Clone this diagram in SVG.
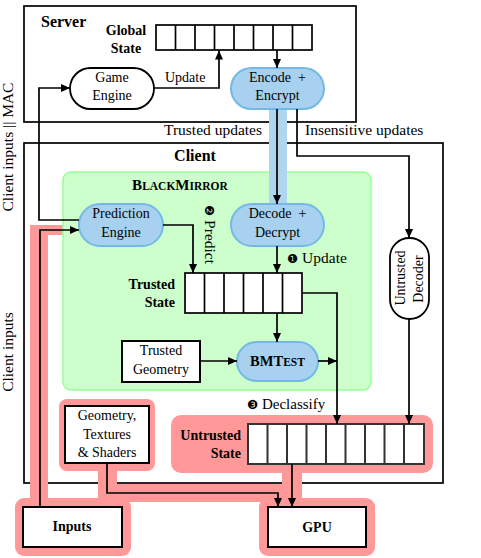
<svg xmlns="http://www.w3.org/2000/svg" width="481" height="558" viewBox="0 0 481 558">
<style>
text{font-family:"Liberation Serif","DejaVu Serif",serif;fill:#000}
.n{font-size:14px;text-anchor:middle}
.b{font-weight:bold;font-size:14px}
.lab{font-size:15.5px}
.box{fill:none;stroke:#000;stroke-width:1.7}
.wb{fill:#fff;stroke:#000;stroke-width:2}
.cell{fill:#fff;stroke:#000;stroke-width:1.7}
.ucell{fill:#fff;stroke:#333;stroke-width:2}
.blue{fill:#a7d1ee;stroke:#74b9e6;stroke-width:2}
.pill{fill:#fff;stroke:#000;stroke-width:1.8}
.pink{fill:#ff9999}
.ln{fill:none;stroke:#000;stroke-width:1.7}
.ar{marker-end:url(#ah)}
.dg{font-family:"DejaVu Sans",sans-serif;font-size:12.5px}
</style>
<defs>
<marker id="ah" markerUnits="userSpaceOnUse" markerWidth="10" markerHeight="8" refX="9" refY="4" orient="auto">
<path d="M0,0 L9,4 L0,8 z" fill="#000"/>
</marker>
</defs>
<rect width="481" height="558" fill="#fff"/>

<g id="server">
<rect class="box" x="24" y="6" width="332" height="116"/>
<text x="41" y="27" class="b" style="font-size:16px">Server</text>
</g>

<g id="client">
<rect class="box" x="24" y="143" width="419" height="340"/>
<text x="195" y="161" class="b" style="font-size:16px;text-anchor:middle">Client</text>
</g>

<g id="side-labels">
<text class="lab" transform="translate(13,147) rotate(-90)" text-anchor="middle">Client inputs || MAC</text>
<text class="lab" transform="translate(13,352) rotate(-90)" text-anchor="middle">Client inputs</text>
</g>

<g id="pink-regions">
<rect class="pink" x="30" y="225" width="18" height="280"/>
<rect class="pink" x="30" y="225" width="34" height="10"/>
<rect class="pink" x="59" y="399" width="96" height="72" rx="8"/>
<rect class="pink" x="98" y="465" width="19" height="37"/>
<rect class="pink" x="98" y="484" width="190" height="18"/>
<rect class="pink" x="171" y="415" width="262" height="58" rx="10"/>
<rect class="pink" x="282" y="470" width="20" height="32"/>
<rect class="pink" x="15" y="498" width="116" height="58" rx="9"/>
<rect class="pink" x="259" y="498" width="116" height="58" rx="9"/>
</g>

<g id="blackmirror">
<rect x="63" y="172" width="308" height="218" rx="8" fill="#ccffcc" stroke="#99ff99" stroke-width="1.5"/>
<text x="180" y="190" text-anchor="middle" font-weight="bold" style="font-size:15px">B<tspan style="font-size:11.5px">LACK</tspan>M<tspan style="font-size:11.5px">IRROR</tspan></text>
</g>

<g id="trusted-band">
<rect x="269" y="109" width="18" height="96" fill="#b0d5ee"/>
</g>

<g id="global-state">
<text x="126" y="35" class="b" text-anchor="middle">Global</text>
<text x="126" y="53" class="b" text-anchor="middle">State</text>
<rect class="cell" x="156" y="25" width="156" height="25"/>
<path class="ln" d="M175.5,25V50M195,25V50M214.5,25V50M234,25V50M253.5,25V50M273,25V50M292.5,25V50"/>
</g>

<g id="game-engine">
<rect class="pill" x="70" y="68" width="84" height="41" rx="20.5"/>
<text x="112" y="82" class="n">Game</text>
<text x="112" y="100" class="n">Engine</text>
</g>

<g id="encode-encrypt">
<rect class="blue" x="231" y="68" width="93" height="41" rx="20.5"/>
<text x="277.5" y="82" class="n">Encode&#160; +</text>
<text x="277.5" y="100" class="n">Encrypt</text>
</g>

<g id="prediction-engine">
<rect class="blue" x="79" y="204" width="84" height="42" rx="21"/>
<text x="121" y="218" class="n">Prediction</text>
<text x="121" y="237" class="n">Engine</text>
</g>

<g id="decode-decrypt">
<rect class="blue" x="231" y="204" width="93" height="42" rx="21"/>
<text x="277.5" y="218" class="n">Decode&#160; +</text>
<text x="277.5" y="237" class="n">Decrypt</text>
</g>

<g id="trusted-state">
<text x="175" y="289" class="b" text-anchor="end">Trusted</text>
<text x="175" y="307" class="b" text-anchor="end">State</text>
<rect class="cell" x="185" y="273" width="117" height="40"/>
<path class="ln" d="M204.5,273V313M224,273V313M243.5,273V313M263,273V313M282.5,273V313"/>
</g>

<g id="trusted-geometry">
<rect class="wb" x="122" y="341" width="78" height="41"/>
<text x="161" y="355" class="n">Trusted</text>
<text x="161" y="374" class="n">Geometry</text>
</g>

<g id="bmtest">
<rect class="blue" x="237" y="342" width="81" height="39" rx="19.5"/>
<text x="277.5" y="366" text-anchor="middle" font-weight="bold" style="font-size:14.5px">BMT<tspan style="font-size:11.5px">EST</tspan></text>
</g>

<g id="untrusted-decoder">
<rect class="pill" x="390" y="238" width="39" height="81" rx="19.5"/>
<text class="n" transform="translate(405,278) rotate(-90)">Untrusted</text>
<text class="n" transform="translate(423,279) rotate(-90)">Decoder</text>
</g>

<g id="geometry-textures">
<rect class="wb" x="65" y="406" width="84" height="57"/>
<text x="107" y="420" class="n">Geometry,</text>
<text x="107" y="439" class="n">Textures</text>
<text x="107" y="457" class="n">&amp; Shaders</text>
</g>

<g id="untrusted-state">
<text x="241" y="440" class="b" text-anchor="end">Untrusted</text>
<text x="241" y="458" class="b" text-anchor="end">State</text>
<rect class="ucell" x="248" y="424" width="176" height="40"/>
<path d="M267.5,424V464M287,424V464M306.5,424V464M326,424V464M345.5,424V464M365,424V464M384.5,424V464M404,424V464" stroke="#333" stroke-width="2" fill="none"/>
</g>

<g id="inputs">
<rect class="wb" x="23" y="507" width="99" height="40"/>
<text x="72" y="531" class="b" text-anchor="middle">Inputs</text>
</g>

<g id="gpu">
<rect class="wb" x="268" y="507" width="98" height="40"/>
<text x="317" y="532" class="b" text-anchor="middle">GPU</text>
</g>

<g id="connectors">
<path class="ln ar" d="M154,88H219V50.5"/>
<path class="ln ar" d="M277,50V68"/>
<path class="ln ar" d="M277,109V204"/>
<path class="ln ar" d="M297,109V156H409V238"/>
<path class="ln ar" d="M79,220H39V88H70"/>
<path class="ln ar" d="M40,507V230H79"/>
<path class="ln ar" d="M163,225H193V273"/>
<path class="ln ar" d="M277,246V273"/>
<path class="ln ar" d="M277,313V342"/>
<path class="ln ar" d="M200,361H237"/>
<path class="ln ar" d="M318,361H337"/>
<path class="ln ar" d="M302,293H337V424"/>
<path class="ln ar" d="M409,319V424"/>
<path class="ln ar" d="M107,463V493H278V507"/>
<path class="ln ar" d="M292,464V507"/>
</g>

<g id="connector-labels">
<text x="165" y="82" style="font-size:14px">Update</text>
<text x="164" y="135" class="lab">Trusted updates</text>
<text x="305" y="135" class="lab">Insensitive updates</text>
<text x="287" y="263" class="lab"><tspan class="dg">❶</tspan> Update</text>
<text class="lab" transform="translate(205,205) rotate(90)"><tspan class="dg">❷</tspan> Predict</text>
<text x="247" y="409" style="font-size:15px"><tspan class="dg">❸</tspan> Declassify</text>
</g>
</svg>
